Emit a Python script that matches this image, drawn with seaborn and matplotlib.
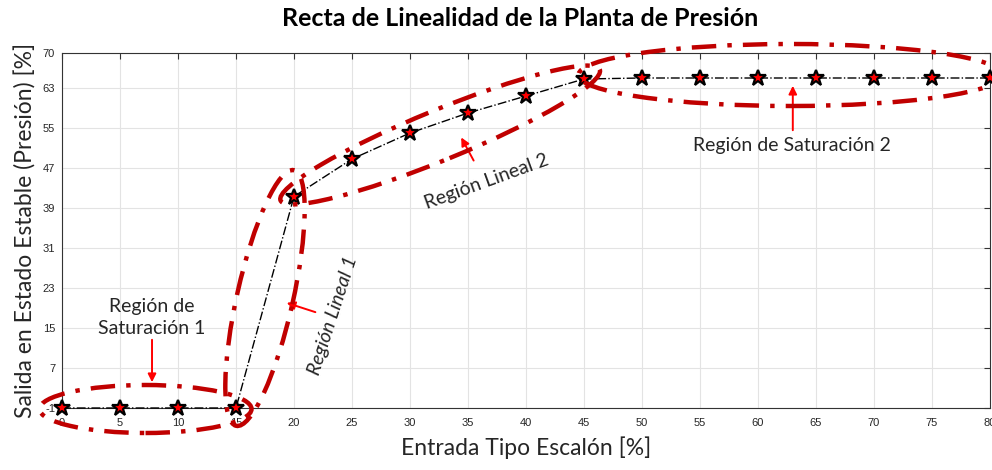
import numpy as np
import matplotlib
matplotlib.use("Agg")
import matplotlib.pyplot as plt
from matplotlib.patches import Ellipse
import seaborn as sns

# datos
entrada = [0, 5, 10, 15, 20, 25, 30, 35, 40, 45, 50, 55, 60, 65, 70, 75, 80]
salida = [-1, -1, -1, -1, 41.3, 48.8, 54.0, 58.0, 61.4, 64.8, 65, 65, 65, 65, 65, 65, 65]
y_ticks = [-1, 7, 15, 23, 31, 39, 47, 55, 63, 70]
x_ticks = list(range(0, 85, 5))

RED = "#c00000"
TXT = "#262626"

sns.set_style("whitegrid")
plt.rcParams['font.family'] = ['Lato', 'DejaVu Sans']
plt.rcParams['axes.unicode_minus'] = False

fig = plt.figure(figsize=(9.92, 4.70), dpi=100)
ax = fig.add_axes([62 / 992, 62 / 470, 928 / 992, 355 / 470])

sns.lineplot(x=entrada, y=salida, ax=ax, color="black", linestyle="-.", linewidth=1.0,
             marker="*", markersize=12, markerfacecolor="red", markeredgecolor="black",
             markeredgewidth=1.6, zorder=4, clip_on=False)

ax.set_xlim(0, 80)
ax.set_ylim(-1, 70)
ax.set_xticks(x_ticks)
ax.set_yticks(y_ticks)
for lab in ax.get_xticklabels() + ax.get_yticklabels():
    lab.set_fontfamily("Liberation Sans")
    lab.set_fontsize(8)
    lab.set_color(TXT)
ax.tick_params(direction="in", top=True, right=True, length=4, width=0.8, color="#333333")
ax.tick_params(axis="x", pad=7)
ax.tick_params(axis="y", pad=5)
ax.grid(True, color="#e3e3e3", linewidth=0.8)
for s in ax.spines.values():
    s.set_color("#333333")
    s.set_linewidth(0.8)

ax.set_xlabel("Entrada Tipo Escalón [%]", fontsize=16.5, color=TXT, labelpad=6)
ax.set_ylabel("Salida en Estado Estable (Presión) [%]", fontsize=16.5, color=TXT, labelpad=4)
fig.text(520 / 992, 1 - 18 / 470, "Recta de Linealidad de la Planta de Presión",
         ha="center", va="center", fontsize=18, fontweight="bold", color="black")


def elipse(center, w, h, angle):
    # centro en datos, ejes en pixeles
    disp = ax.transData.transform(center)
    c = fig.dpi_scale_trans.inverted().transform(disp)
    e = Ellipse(c, w / 100, h / 100, angle=angle, transform=fig.dpi_scale_trans,
                fill=False, edgecolor=RED, linewidth=3.2,
                linestyle=(0, (5.5, 2.5, 1, 2.5)), clip_on=False, zorder=5)
    fig.add_artist(e)


elipse((7.2, -1.2), 212, 48, 0)
elipse((17.5, 21), 262, 56, 77.3)
elipse((32.6, 53.6), 345, 50, 22.3)
elipse((62.8, 65.6), 424, 62, 0)

arrow = dict(arrowstyle="-|>", color="red", lw=1.4, mutation_scale=12)
ax.annotate("", xy=(7.76, 3.6), xytext=(7.76, 13.2), arrowprops=arrow, annotation_clip=False)
ax.annotate("", xy=(19.14, 20.2), xytext=(22.07, 18), arrowprops=arrow)
ax.annotate("", xy=(34.3, 53.6), xytext=(35.6, 48), arrowprops=arrow)
ax.annotate("", xy=(63, 64), xytext=(63, 54), arrowprops=arrow)

ax.text(7.76, 17.1, "Región de\nSaturación 1", ha="center", va="center", fontsize=14,
        color=TXT, linespacing=1.3)
ax.text(23.4, 17.5, "Región Lineal 1", ha="center", va="center", fontsize=14,
        color=TXT, rotation=72, style="italic")
ax.text(36.6, 44.2, "Región Lineal 2", ha="center", va="center", fontsize=14,
        color=TXT, rotation=20)
ax.text(62.9, 51.6, "Región de Saturación 2", ha="center", va="center", fontsize=14,
        color=TXT)

fig.savefig("out.png", dpi=100)
